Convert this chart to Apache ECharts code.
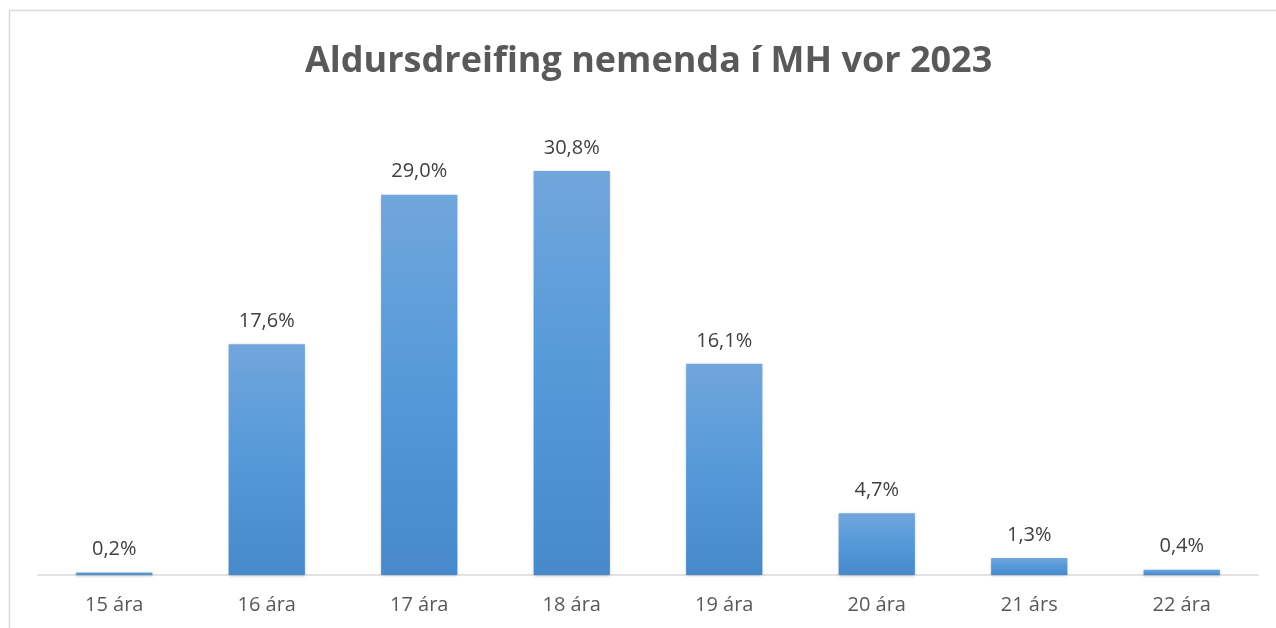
<!DOCTYPE html>
<html>
<head>
<meta charset="utf-8">
<script src="https://cdn.jsdelivr.net/npm/echarts@6/dist/echarts.min.js"></script>
<style>
html, body { margin: 0; padding: 0; background: #fff; }
#chart { width: 1276px; height: 628px; }
</style>
</head>
<body>
<div id="chart"></div>
<script>
var titleText = 'Aldursdreifing nemenda í MH vor 2023';
var categories = ['15 ára', '16 ára', '17 ára', '18 ára', '19 ára', '20 ára', '21 árs', '22 ára'];
var shares = [0.2, 17.6, 29.0, 30.8, 16.1, 4.7, 1.3, 0.4];

var myChart = echarts.init(document.getElementById('chart'), null, { renderer: 'canvas' });
var font = '"Open Sans", "Liberation Sans", sans-serif';

myChart.setOption({
    animation: false,
    title: {
        text: titleText,
        left: 300,
        top: 39,
        textStyle: { fontFamily: font, fontSize: 36, fontWeight: 'bold', color: '#595959' }
    },
    graphic: [{
        type: 'rect',
        silent: true,
        shape: { x: 9.5, y: 10.5, width: 1400, height: 800 },
        style: { fill: 'none', stroke: '#d9d9d9', lineWidth: 1.5 }
    }],
    grid: { left: 38, right: 18, top: 116, bottom: 53 },
    xAxis: {
        type: 'category',
        data: categories,
        axisLine: { lineStyle: { color: '#d9d9d9', width: 1.5 } },
        axisTick: { show: false },
        axisLabel: { fontFamily: font, fontSize: 20, color: '#595959', margin: 20 }
    },
    yAxis: {
        type: 'value',
        min: 0,
        max: 35,
        show: false,
        splitLine: { show: false }
    },
    series: [{
        type: 'bar',
        data: shares,
        barWidth: '50%',
        itemStyle: {
            color: new echarts.graphic.LinearGradient(0, 0, 0, 1, [
                { offset: 0, color: '#71a6dc' },
                { offset: 0.5, color: '#5599d9' },
                { offset: 1, color: '#4789cb' }
            ]),
            shadowColor: 'rgba(0,0,0,0.25)',
            shadowBlur: 3,
            shadowOffsetY: 1
        },
        label: {
            show: true,
            position: 'top',
            distance: 13,
            fontFamily: font,
            fontSize: 20,
            color: '#404040',
            formatter: function (p) {
                return p.value.toFixed(1).replace('.', ',') + '%';
            }
        }
    }]
});
</script>
</body>
</html>
